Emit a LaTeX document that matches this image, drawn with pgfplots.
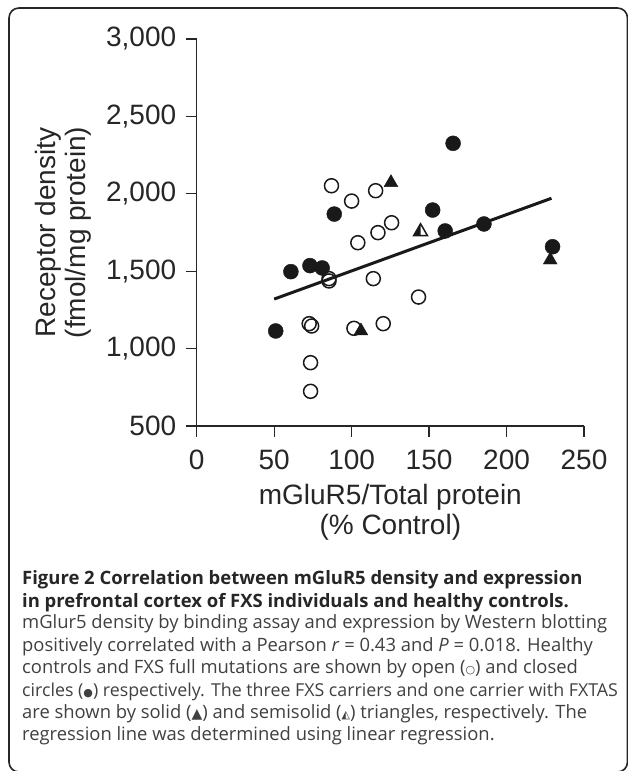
\documentclass[border=0pt]{standalone}
\usepackage{fontspec}
\setmainfont{Liberation Sans}
\newfontfamily\capfont{Open Sans}
\newfontfamily\symfont{DejaVu Sans}
\usepackage{pgfplots}
\pgfplotsset{compat=1.18}
\pgfdeclareplotmark{halftri}{%
 \pgfpathmoveto{\pgfqpoint{0pt}{\pgfplotmarksize}}%
 \pgfpathlineto{\pgfqpoint{-0.866\pgfplotmarksize}{-0.5\pgfplotmarksize}}%
 \pgfpathlineto{\pgfqpoint{0pt}{-0.5\pgfplotmarksize}}%
 \pgfpathclose\pgfusepathqfill
 \pgfpathmoveto{\pgfqpoint{0pt}{\pgfplotmarksize}}%
 \pgfpathlineto{\pgfqpoint{-0.866\pgfplotmarksize}{-0.5\pgfplotmarksize}}%
 \pgfpathlineto{\pgfqpoint{0.866\pgfplotmarksize}{-0.5\pgfplotmarksize}}%
 \pgfpathclose\pgfusepathqstroke}
\begin{document}
\begin{tikzpicture}[x=1pt,y=1pt]
\useasboundingbox (0,0) rectangle (627,771);
\draw[line width=1.6pt, black!85, rounded corners=10pt] (9,-1) rectangle (627.5,763);
\begin{axis}[
 at={(196.7pt,345pt)}, anchor=south west,
 scale only axis, width=387.3pt, height=387pt,
 xmin=0, xmax=250, ymin=500, ymax=3000,
 axis lines=left, axis line style={-, line width=1.3pt, black!85},
 xtick={0,50,...,250}, ytick={500,1000,...,3000},
 tick align=outside, major tick length=11pt,
 tick style={line width=1.3pt, black!85},
 ticklabel style={font=\fontsize{28}{32}\selectfont, text=black!85},
 xticklabel style={yshift=-9pt},
 yticklabel style={xshift=-6pt},
 /pgf/number format/assume math mode=true,
 /pgf/number format/1000 sep={,},
 xlabel={mGluR5/Total protein\\(\% Control)},
 ylabel={Receptor density\\(fmol/mg protein)},
 label style={font=\fontsize{28}{30}\selectfont, align=center, text=black!85},
 xlabel style={at={(axis description cs:0.5,-0.222)}, anchor=center},
 ylabel style={at={(axis description cs:-0.345,0.5)}, anchor=center},
 clip=false,
]
\addplot[line width=3pt, black!90] coordinates {(50,1320) (229,1971)};
\addplot[only marks, mark=o, mark size=7pt, mark options={line width=1.5pt, black!90}] coordinates {
(87,2052) (100,1953) (115.5,2020) (125.8,1813) (117,1749) (104,1684)
(85.4,1452) (85.4,1437) (114,1452) (143.2,1333) (120.4,1161) (101.5,1131)
(72.6,1161) (74.2,1146) (73.5,909) (73.5,724)};
\addplot[only marks, mark=*, mark size=7.5pt, mark options={black!90, fill=black!90}] coordinates {
(51,1114) (60.8,1497) (73.1,1536) (81,1521) (88.8,1869) (152.3,1895)
(160.4,1760) (165.5,2326) (185.4,1805) (229.7,1658)};
\addplot[only marks, mark=triangle*, mark size=8pt, mark options={black!90, fill=black!90}] coordinates {
(125.4,2072) (106,1114) (228.2,1572)};
\addplot[only marks, mark=halftri, mark size=8pt, mark options={black!90, fill=black!90, line width=1.5pt}] coordinates {
(144.5,1755)};
\end{axis}
\begin{scope}[every node/.style={anchor=base west, inner sep=0pt, text=black!85}]
\node at (22,186) {\capfont\bfseries\fontsize{18.45}{22}\selectfont Figure 2 Correlation between mGluR5 density and expression};
\node at (22,163) {\capfont\bfseries\fontsize{18.45}{22}\selectfont in prefrontal cortex of FXS individuals and healthy controls.};
\end{scope}
\begin{scope}[every node/.style={anchor=base west, inner sep=0pt, text=black!75}]
\node at (22,142) {\capfont\fontsize{18.4}{22}\selectfont mGlur5 density by binding assay and expression by Western blotting};
\node at (22,119) {\capfont\fontsize{18.4}{22}\selectfont positively correlated with a Pearson \textit{r} = 0.43 and \textit{P} = 0.018. Healthy};
\node at (22,97) {\capfont\fontsize{18.4}{22}\selectfont controls and FXS full mutations are shown by open ({\symfont\fontsize{11}{11}\selectfont ○}) and closed};
\node at (22,74) {\capfont\fontsize{17.8}{22}\selectfont circles ({\symfont\fontsize{11}{11}\selectfont ●}) respectively. The three FXS carriers and one carrier with FXTAS};
\node at (22,52) {\capfont\fontsize{18.4}{22}\selectfont are shown by solid ({\symfont\fontsize{14}{14}\selectfont ▲}) and semisolid ({\symfont\fontsize{11}{11}\selectfont ◭}) triangles, respectively. The};
\node at (22,30) {\capfont\fontsize{18.4}{22}\selectfont regression line was determined using linear regression.};
\end{scope}
\end{tikzpicture}
\end{document}
